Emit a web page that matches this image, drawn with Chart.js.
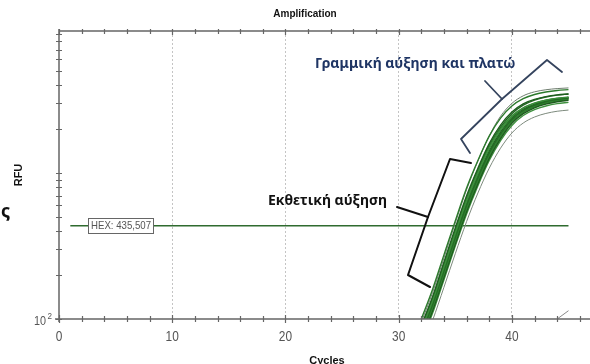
<!DOCTYPE html>
<html>
<head>
<meta charset="UTF-8">
<script src="https://cdn.jsdelivr.net/npm/chart.js@4.4.0/dist/chart.umd.min.js"></script>
<style>
  html, body { margin: 0; padding: 0; background: #fff; }
</style>
</head>
<body>
<canvas id="grafico" width="590" height="364"></canvas>
<script>
// ciclos de la amplificación
const ciclos = [32, 33, 34, 35, 36, 37, 38, 39, 40, 41, 42, 43, 44, 45];

// RFU de cada pozo
const curva01 = [100, 160, 275, 470, 790, 1220, 1790, 2380, 2880, 3230, 3450, 3590, 3680, 3730];
const curva02 = [90, 142, 245, 420, 700, 1080, 1590, 2130, 2620, 2980, 3200, 3340, 3430, 3480];
const curva03 = [84, 133, 226, 385, 640, 990, 1460, 1960, 2430, 2780, 3010, 3160, 3260, 3320];
const curva04 = [80, 126, 214, 363, 603, 933, 1380, 1860, 2340, 2690, 2920, 3090, 3200, 3270];
const curva05 = [76, 120, 203, 344, 572, 890, 1320, 1790, 2270, 2630, 2870, 3040, 3150, 3220];
const curva06 = [72, 114, 192, 326, 542, 845, 1260, 1720, 2190, 2550, 2800, 2970, 3080, 3150];
const curva07 = [86, 137, 234, 400, 665, 1030, 1510, 2010, 2470, 2800, 3010, 3150, 3240, 3290];
const curva08 = [78, 123, 208, 352, 585, 910, 1350, 1830, 2310, 2670, 2910, 3080, 3190, 3250];
const curva09 = [70, 110, 186, 316, 525, 820, 1220, 1670, 2120, 2480, 2720, 2880, 2990, 3050];
const curva10 = [88, 140, 238, 405, 675, 1045, 1540, 2060, 2550, 2920, 3160, 3320, 3420, 3480];
const curva11 = [62, 98, 165, 280, 465, 730, 1080, 1480, 1880, 2200, 2420, 2560, 2650, 2700];
const curva12 = [95, 152, 262, 455, 770, 1210, 1800, 2450, 3000, 3380, 3600, 3720, 3790, 3830];
const curva13 = [74, 117, 198, 336, 558, 870, 1290, 1760, 2240, 2600, 2840, 3010, 3120, 3190];
const curva14 = [82, 130, 220, 374, 622, 962, 1420, 1910, 2390, 2740, 2970, 3130, 3230, 3290];

// control negativo que apenas sube al final
const ciclosNeg = [43, 44, 45];
const curvaNeg = [85, 100, 114];

// línea de umbral HEX
const umbralCiclos = [1, 45];
const umbral = 435.507;

const ticksX = [0, 10, 20, 30, 40];

const curvas = [curva01, curva02, curva03, curva04, curva05, curva06, curva07,
                curva08, curva09, curva10, curva11, curva12, curva13, curva14];
const colores = ['#2c7a2c', '#1f5f1f', '#3b8d3b', '#246b24', '#2f802f', '#1d5a1d', '#348734',
                 '#276f27', '#3f913f', '#226622', '#7d8a7d', '#6f7d6f', '#2a752a', '#1b561b'];

const datasets = curvas.map((c, i) => ({
    data: ciclos.map((x, j) => ({ x: x, y: c[j] })),
    borderColor: colores[i],
    borderWidth: (i === 10 || i === 11) ? 1 : 1.4,
    pointRadius: 0,
    cubicInterpolationMode: 'monotone',
    fill: false
}));

datasets.push({
    data: ciclosNeg.map((x, j) => ({ x: x, y: curvaNeg[j] })),
    borderColor: '#8a8a8a',
    borderWidth: 1,
    pointRadius: 0,
    fill: false
});

datasets.push({
    data: umbralCiclos.map(x => ({ x: x, y: umbral })),
    borderColor: '#2f6b2f',
    borderWidth: 1.5,
    pointRadius: 0,
    fill: false
});

function linea(ctx, puntos) {
    ctx.beginPath();
    ctx.moveTo(puntos[0][0], puntos[0][1]);
    for (let i = 1; i < puntos.length; i++) ctx.lineTo(puntos[i][0], puntos[i][1]);
    ctx.stroke();
}

// texto comprimido a lo ancho (la fuente original es estrecha)
function textoEstrecho(ctx, texto, x, y, escala) {
    ctx.save();
    ctx.translate(x, y);
    ctx.scale(escala, 1);
    ctx.fillText(texto, 0, 0);
    ctx.restore();
}

const decoracion = {
    id: 'decoracion',
    afterDraw(chart) {
        const ctx = chart.ctx;
        const x = chart.scales.x, y = chart.scales.y;
        const a = chart.chartArea;
        ctx.save();

        // ejes
        ctx.strokeStyle = '#666';
        ctx.lineWidth = 1.5;
        ctx.beginPath();
        ctx.moveTo(a.left - 4, a.bottom); ctx.lineTo(a.right, a.bottom);
        ctx.moveTo(a.left, a.top - 2); ctx.lineTo(a.left, a.bottom + 3);
        ctx.moveTo(a.left, a.top); ctx.lineTo(a.right, a.top);
        ctx.stroke();

        // marcas del eje x (abajo y arriba)
        ctx.lineWidth = 1.2;
        ctx.beginPath();
        for (let v = 0; v <= x.max; v += 2) {
            const px = Math.round(x.getPixelForValue(v)) + 0.5;
            const l = v % 10 === 0 ? 4 : 3;
            ctx.moveTo(px, a.bottom - l); ctx.lineTo(px, a.bottom + l);
            ctx.moveTo(px, a.top - 2); ctx.lineTo(px, a.top + l);
        }
        // marcas del eje y logarítmico
        for (let d = 100; d <= 1000; d *= 10) {
            for (let k = 1; k <= 9; k++) {
                const v = d * k;
                if (v < y.min || v > y.max) continue;
                const py = Math.round(y.getPixelForValue(v)) + 0.5;
                ctx.moveTo(a.left - 3, py); ctx.lineTo(a.left + 3, py);
            }
        }
        ctx.stroke();

        // etiquetas del eje x
        ctx.fillStyle = '#555';
        ctx.font = '14px "Liberation Sans", Arial, sans-serif';
        ctx.textAlign = 'center';
        ctx.textBaseline = 'middle';
        ticksX.forEach(v => textoEstrecho(ctx, String(v), x.getPixelForValue(v), a.bottom + 18, 0.85));

        // 10^2
        ctx.textAlign = 'right';
        ctx.font = '12px "Liberation Sans", Arial, sans-serif';
        textoEstrecho(ctx, '10', a.left - 13, y.getPixelForValue(100) + 3, 0.9);
        ctx.font = '9px "Liberation Sans", Arial, sans-serif';
        textoEstrecho(ctx, '2', a.left - 7, y.getPixelForValue(100) - 2, 0.9);

        // título y ejes
        ctx.fillStyle = '#111';
        ctx.textAlign = 'center';
        ctx.font = 'bold 10px "Liberation Sans", Arial, sans-serif';
        ctx.fillText('Amplification', 305, 14);
        ctx.font = 'bold 11px "Liberation Sans", Arial, sans-serif';
        ctx.textBaseline = 'alphabetic';
        ctx.fillText('Cycles', 327, 364);
        ctx.save();
        ctx.translate(19, 175);
        ctx.rotate(-Math.PI / 2);
        ctx.textBaseline = 'middle';
        ctx.font = 'bold 11px "Liberation Sans", Arial, sans-serif';
        ctx.fillText('RFU', 0, 0);
        ctx.restore();

        // letra cortada a la izquierda
        ctx.textAlign = 'left';
        ctx.textBaseline = 'alphabetic';
        ctx.font = 'bold 18px "Noto Sans", sans-serif';
        ctx.fillText('ς', 1, 217);

        // caja del umbral
        const yu = y.getPixelForValue(umbral);
        const bx = Math.round(x.getPixelForValue(2.55)) + 0.5;
        ctx.fillStyle = '#fff';
        ctx.fillRect(bx, Math.round(yu) - 7.5, 65, 15);
        ctx.strokeStyle = '#666';
        ctx.lineWidth = 1;
        ctx.strokeRect(bx, Math.round(yu) - 7.5, 65, 15);
        ctx.fillStyle = '#555';
        ctx.font = '11px "Liberation Sans", Arial, sans-serif';
        ctx.textBaseline = 'middle';
        const ancho = ctx.measureText('HEX: 435,507').width;
        textoEstrecho(ctx, 'HEX: 435,507', bx + 2.5, yu + 0.5, Math.min(1, 60 / ancho));

        // anotaciones
        ctx.lineJoin = 'round';
        ctx.lineCap = 'round';
        ctx.strokeStyle = '#35445e';
        ctx.lineWidth = 1.8;
        linea(ctx, [[470, 153], [461, 139], [502, 99], [547, 60], [562, 72]]);
        linea(ctx, [[502, 99], [485, 81]]);

        ctx.strokeStyle = '#111';
        ctx.lineWidth = 2;
        linea(ctx, [[471, 163], [450, 159], [428, 217], [408, 275], [430, 287]]);
        linea(ctx, [[428, 217], [397, 207]]);

        ctx.textAlign = 'left';
        ctx.textBaseline = 'middle';
        ctx.font = 'bold 14px "Noto Sans", "Open Sans", sans-serif';
        ctx.fillStyle = '#1f3564';
        ctx.fillText('Γραμμική αύξηση και πλατώ', 315, 64);
        ctx.fillStyle = '#111';
        ctx.fillText('Εκθετική αύξηση', 268, 201);

        ctx.restore();
    }
};

new Chart(document.getElementById('grafico'), {
    type: 'line',
    data: { datasets: datasets },
    options: {
        responsive: false,
        animation: false,
        devicePixelRatio: 1,
        layout: { padding: { left: 59, top: 31, right: 0, bottom: 45 } },
        plugins: {
            legend: { display: false },
            tooltip: { enabled: false },
            title: { display: false }
        },
        scales: {
            x: {
                type: 'linear',
                min: 0,
                max: 46.9,
                ticks: { display: false, stepSize: 10 },
                grid: {
                    drawTicks: false,
                    lineWidth: 1,
                    color: c => (c.tick && c.tick.value > 0) ? '#c4c4c4' : 'transparent'
                },
                border: { display: false, dash: [2, 2] }
            },
            y: {
                type: 'logarithmic',
                min: 100,
                max: 9400,
                ticks: { display: false },
                grid: { display: false, drawTicks: false },
                border: { display: false }
            }
        }
    },
    plugins: [decoracion]
});
</script>
</body>
</html>
